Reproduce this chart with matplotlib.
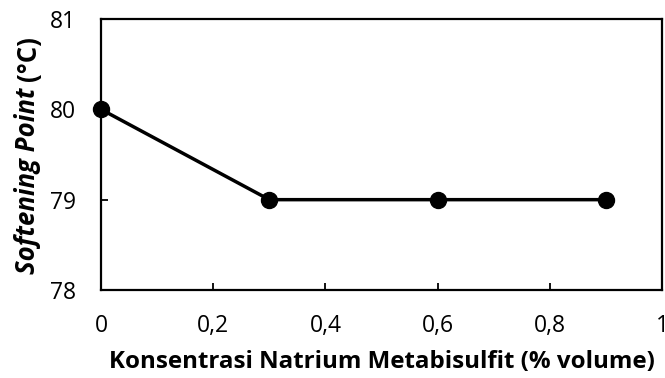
import matplotlib
matplotlib.use('Agg')
import matplotlib.pyplot as plt
from matplotlib.ticker import FuncFormatter

# data
konsentrasi = [0, 0.3, 0.6, 0.9]
softening = [80, 79, 79, 79]
xticks = [0, 0.2, 0.4, 0.6, 0.8, 1.0]
yticks = [78, 79, 80, 81]

plt.rcParams['font.family'] = ['Open Sans', 'DejaVu Sans']

fig = plt.figure(figsize=(6.65, 3.78), dpi=100)
ax = fig.add_axes([101/665, 1-290/378, 561/665, 271/378])

ax.plot(konsentrasi, softening, color='black', lw=2.5, marker='o', ms=11.5, clip_on=False, zorder=3)

ax.set_xlim(0, 1)
ax.set_ylim(78, 81)
ax.set_xticks(xticks)
ax.set_yticks(yticks)
ax.xaxis.set_major_formatter(FuncFormatter(lambda v, p: ('%g' % round(v, 1)).replace('.', ',')))
ax.tick_params(direction='in', length=5, width=1.3, labelsize=16.5, colors='black')
ax.tick_params(axis='x', pad=17)
ax.tick_params(axis='y', pad=18)
for s in ax.spines.values():
    s.set_linewidth(1.6)

ax.set_xlabel('Konsentrasi Natrium Metabisulfit (% volume)', fontsize=17.4, fontweight='bold', labelpad=9)

# ylabel: italic part + normal part
t1 = fig.text(28/665, 1-274/378, 'Softening Point ', rotation=90, fontsize=18.5, fontweight='bold',
              style='italic', ha='center', va='bottom')
fig.canvas.draw()
bb = t1.get_window_extent()
fig.text(28/665, (bb.y1)/fig.bbox.height, '(°C)', rotation=90, fontsize=18.5, fontweight='bold',
         ha='center', va='bottom')

fig.savefig('out.png', dpi=100)
